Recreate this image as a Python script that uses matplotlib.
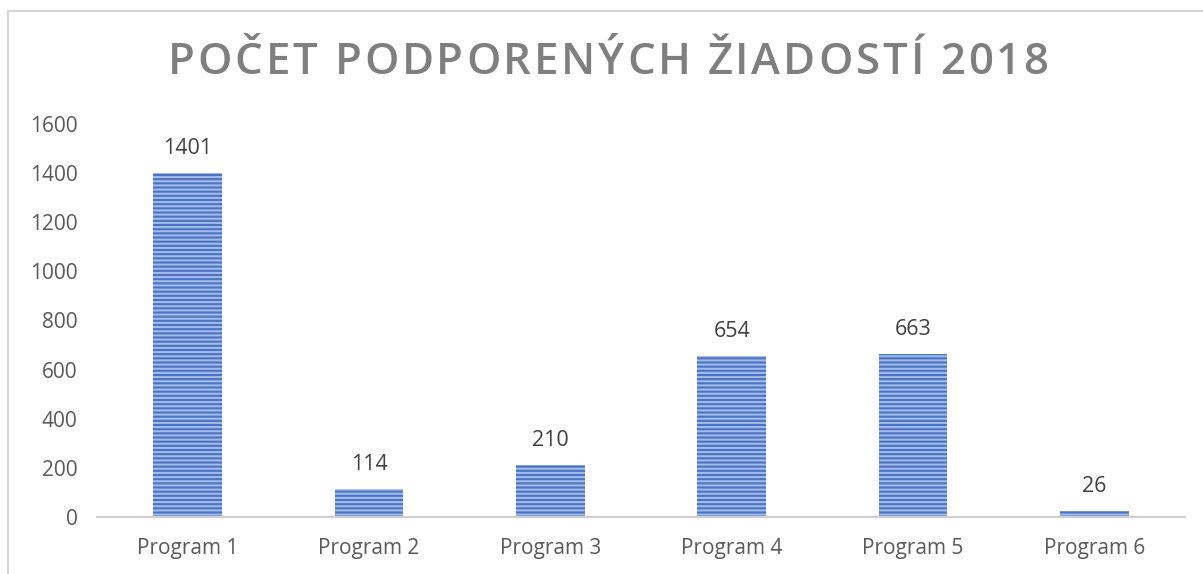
import matplotlib
matplotlib.use("Agg")
import matplotlib.pyplot as plt
from matplotlib.lines import Line2D

categories = ["Program 1", "Program 2", "Program 3", "Program 4", "Program 5", "Program 6"]
values = [1401, 114, 210, 654, 663, 26]
yticks = [0, 200, 400, 600, 800, 1000, 1200, 1400, 1600]
title = "POČET PODPORENÝCH ŽIADOSTÍ 2018"

plt.rcParams['font.family'] = ['Open Sans', 'DejaVu Sans']
plt.rcParams['hatch.linewidth'] = 1.5
plt.rcParams['hatch.color'] = '#a3bbe6'

W, H = 1203, 574
fig = plt.figure(figsize=(W / 100, H / 100), dpi=100)
ax = fig.add_axes([97 / W, (H - 517) / H, (1185 - 97) / W, (517 - 124) / H])

x = list(range(len(categories)))
bars = ax.bar(x, values, width=0.38, color='#4a74c6', edgecolor='#a3bbe6',
              linewidth=0, hatch='----', zorder=2)

for xi, v in zip(x, values):
    ax.text(xi, v + 100, str(v), ha='center', va='center', fontsize=15.5, color='#404040')

ax.set_xlim(-0.5, len(categories) - 0.5)
ax.set_ylim(0, 1600)
ax.set_yticks(yticks)
ax.set_yticklabels([str(t) for t in yticks], fontsize=15, color='#595959')
ax.set_xticks(x)
ax.set_xticklabels(categories, fontsize=15, color='#595959')
ax.tick_params(axis='both', length=0)
ax.tick_params(axis='y', pad=14)
ax.tick_params(axis='x', pad=15)
for s in ['top', 'right', 'left']:
    ax.spines[s].set_visible(False)
ax.spines['bottom'].set_color('#d0d0d0')
ax.spines['bottom'].set_linewidth(1.5)

# title with letter spacing, drawn character by character
renderer = fig.canvas.get_renderer()
tkw = dict(fontsize=31.5, fontweight='semibold', color='#7f7f7f', va='center', ha='left')
spacing = 2.8  # px between letters
widths = []
for ch in title:
    t = fig.text(0, 0, ch, **tkw)
    widths.append(t.get_window_extent(renderer).width if ch != ' ' else None)
    t.remove()
space_t = fig.text(0, 0, 'a a', **tkw)
aa = fig.text(0, 0, 'aa', **tkw)
space_w = space_t.get_window_extent(renderer).width - aa.get_window_extent(renderer).width
space_t.remove()
aa.remove()
widths = [w if w is not None else space_w for w in widths]
total = sum(widths) + spacing * (len(title) - 1)
xpos = 608 - total / 2
for ch, w in zip(title, widths):
    if ch != ' ':
        fig.text(xpos / W, (H - 62) / H, ch, **tkw)
    xpos += w + spacing

# outer chart frame (left and top edges)
fig.add_artist(Line2D([8 / W, 8 / W], [0, (H - 11) / H], color='#d4d4d4', lw=1.5,
                      transform=fig.transFigure))
fig.add_artist(Line2D([8 / W, 1], [(H - 11) / H, (H - 11) / H], color='#d4d4d4', lw=1.5,
                      transform=fig.transFigure))

fig.savefig("out.png", dpi=100)
